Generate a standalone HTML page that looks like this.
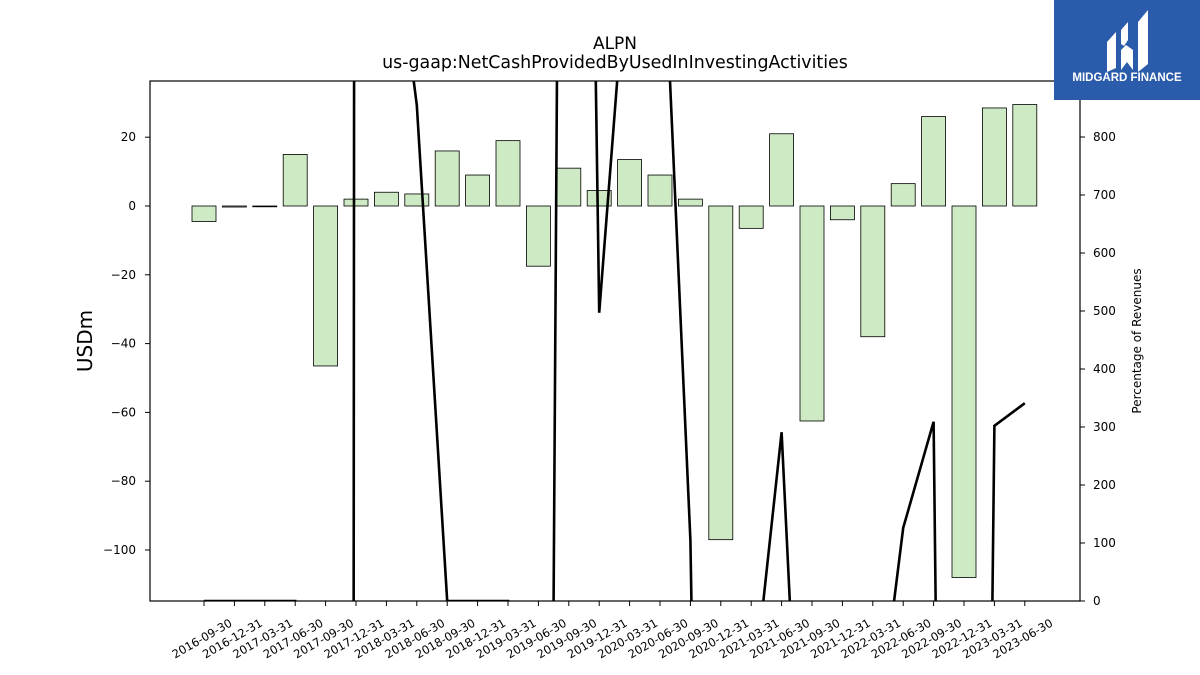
<!DOCTYPE html>
<html><head><meta charset="utf-8">
<style>
html,body{margin:0;padding:0;background:#fff;overflow:hidden;}
body{width:1200px;height:675px;overflow:hidden;font-family:"Liberation Sans","DejaVu Sans",sans-serif;}
svg{display:block;}
</style></head>
<body>
<svg id="chart" width="1200" height="675" xmlns="http://www.w3.org/2000/svg" font-family="DejaVu Sans, Liberation Sans, sans-serif">
  <text x="615" y="49" font-size="17" text-anchor="middle">ALPN</text>
  <text x="615" y="68" font-size="17.4" text-anchor="middle">us-gaap:NetCashProvidedByUsedInInvestingActivities</text>
  <defs><clipPath id="plotclip"><rect x="150" y="81" width="930" height="520"/></clipPath></defs>
  <g id="bars" clip-path="url(#plotclip)"></g>
  <g id="line" clip-path="url(#plotclip)"></g>
  <rect x="150" y="81" width="930" height="520" fill="none" stroke="#000" stroke-width="1.2"/>
  <g id="yticks"></g>
  <g id="y2ticks"></g>
  <g id="xticks"></g>
  <text transform="translate(92,341) rotate(-90)" font-size="20" text-anchor="middle">USDm</text>
  <text transform="translate(1141,341) rotate(-90)" font-size="12" text-anchor="middle">Percentage of Revenues</text>
  <g>
    <rect x="1054" y="0" width="146" height="100" fill="#2b5bab"/>
    <path d="M1107 42 L1116 32 L1116 68 L1107 72 Z" fill="#fff"/>
    <path d="M1121 30 L1128 22 L1128 40 L1124 46 L1121 44 Z" fill="#fff"/>
    <path d="M1121 50 L1126 45 L1133 50 L1133 70 L1127 62 L1121 70 Z" fill="#fff"/>
    <path d="M1138 22 L1148 10 L1148 64 L1138 72 Z" fill="#fff"/>
    <text x="1127" y="81" font-size="11.5" font-weight="bold" fill="#fff" text-anchor="middle" font-family="Liberation Sans, sans-serif">MIDGARD FINANCE</text>
  </g>
</svg>
<script>
const categories=["2016-09-30","2016-12-31","2017-03-31","2017-06-30","2017-09-30","2017-12-31","2018-03-31","2018-06-30","2018-09-30","2018-12-31","2019-03-31","2019-06-30","2019-09-30","2019-12-31","2020-03-31","2020-06-30","2020-09-30","2020-12-31","2021-03-31","2021-06-30","2021-09-30","2021-12-31","2022-03-31","2022-06-30","2022-09-30","2022-12-31","2023-03-31","2023-06-30"];
const cashValues=[-4.5,-0.3,-0.1,15,-46.5,2,4,3.5,16,9,19,-17.5,11,4.5,13.5,9,2,-97,-6.5,21,-62.5,-4,-38,6.5,26,-108,28.5,29.5];
const pctValues=[0,0,0,0,-60000,5000,1265,855,0,0,0,-4073,4073,497,1173,1285,105,-3000,-194,291,-787,-500,-294,126,309,-4300,302,341];
const yTicks=[-100,-80,-60,-40,-20,0,20];
const y2Ticks=[0,100,200,300,400,500,600,700,800];
const NS="http://www.w3.org/2000/svg";
function xPos(i){return 204+i*30.4;}
function yL(v){return 206-v*3.44;}
function yR(v){return 601-v*0.58;}
function mk(tag,attrs,parent){const e=document.createElementNS(NS,tag);for(const k in attrs)e.setAttribute(k,attrs[k]);parent.appendChild(e);return e;}
const bars=document.getElementById('bars');
cashValues.forEach((v,i)=>{
  const y0=yL(0),y1=yL(v);
  const r=mk('rect',{x:xPos(i)-12,y:Math.min(y0,y1),width:24,height:Math.max(Math.abs(y1-y0),0.8),fill:'#cdeac5',stroke:'#000','stroke-width':0.8},bars);
  
  
});
const lg=document.getElementById('line');
const p=mk('polyline',{points:pctValues.map((v,i)=>xPos(i)+','+yR(v)).join(' '),fill:'none',stroke:'#000','stroke-width':2.6,'stroke-linejoin':'miter'},lg);


const yt=document.getElementById('yticks');
yTicks.forEach(v=>{
  const l=mk('line',{x1:145,x2:150,y1:yL(v),y2:yL(v),stroke:'#000'},yt);
  
  
  const t=mk('text',{x:136,y:yL(v)+4,'font-size':12,'text-anchor':'end'},yt);
  t.textContent=(v<0?'\u2212'+Math.abs(v):String(v));
  
  
});
const y2=document.getElementById('y2ticks');
y2Ticks.forEach(v=>{
  const l=mk('line',{x1:1080,x2:1085,y1:yR(v),y2:yR(v),stroke:'#000'},y2);
  
  
  const t=mk('text',{x:1093,y:yR(v)+4,'font-size':12},y2);
  t.textContent=String(v);
  
  
});
const xt=document.getElementById('xticks');
categories.forEach((c,i)=>{
  const x=xPos(i);
  const l=mk('line',{x1:x,x2:x,y1:601,y2:606,stroke:'#000'},xt);
  
  
  const t=mk('text',{transform:'translate('+(x)+',642) rotate(-30)','font-size':11.5,'text-anchor':'middle'},xt);
  t.textContent=c;
  
  
});
</script>
</body></html>
